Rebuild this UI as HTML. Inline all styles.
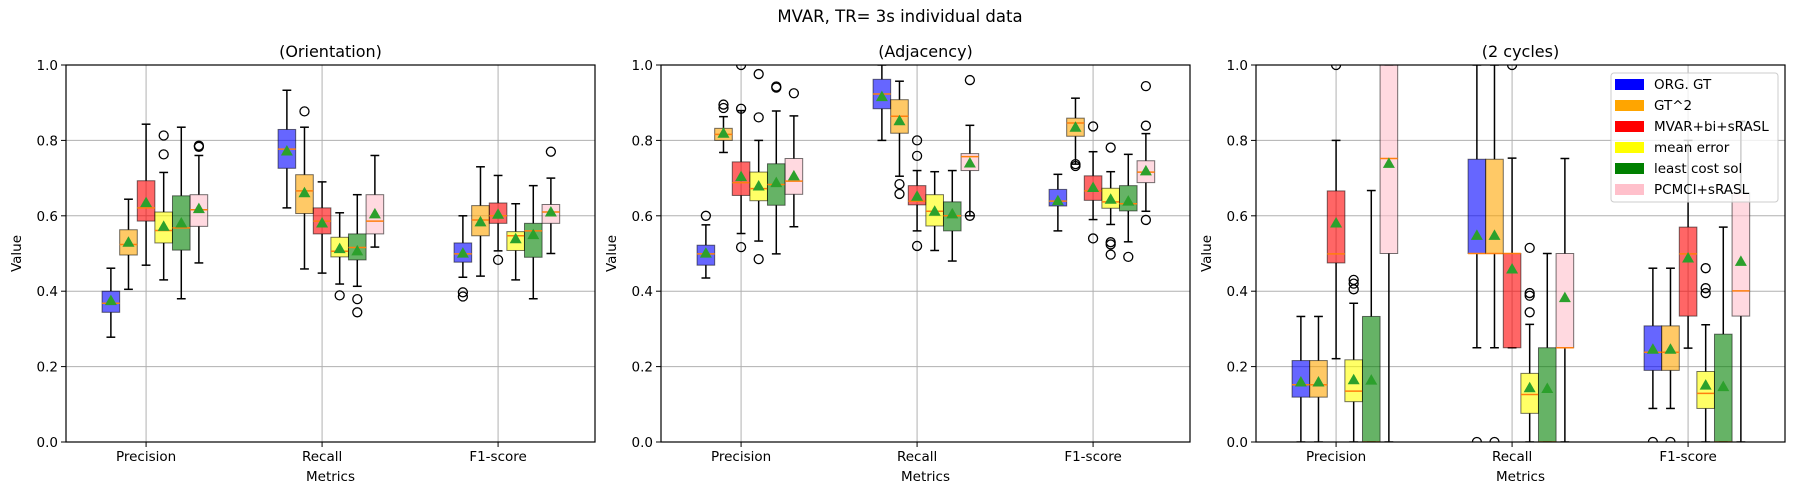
<!DOCTYPE html>
<html><head><meta charset="utf-8"><style>
html,body{margin:0;padding:0;background:#fff;}
svg{display:block;font-family:"DejaVu Sans","Liberation Sans",sans-serif;}
</style></head><body>
<svg id="chart" width="1800" height="500" viewBox="0 0 1800 500" xmlns="http://www.w3.org/2000/svg">
<text x="900" y="22" text-anchor="middle" font-size="16.5" fill="#000">MVAR, TR= 3s individual data</text>
<g id="root"></g>
</svg>
<script>
const panelTitles = ["(Orientation)", "(Adjacency)", "(2 cycles)"];
const metrics = ["Precision", "Recall", "F1-score"];
const methods = ["ORG. GT", "GT^2", "MVAR+bi+sRASL", "mean error", "least cost sol", "PCMCI+sRASL"];
const methodColors = ["#0000ff", "#ffa500", "#ff0000", "#ffff00", "#008000", "#ffc0cb"];
const yTicks = [0.0, 0.2, 0.4, 0.6, 0.8, 1.0];
// [panel][metric][method]
const whiskerHigh = [
 [[0.461,0.644,0.843,0.715,0.835,0.76],[0.933,0.835,0.69,0.608,0.656,0.76],[0.6,0.73,0.707,0.632,0.68,0.70]],
 [[0.576,0.863,0.879,0.8,0.878,0.865],[1.0,0.957,0.72,0.717,0.72,0.84],[0.71,0.912,0.77,0.717,0.763,0.818]],
 [[0.333,0.333,0.8,0.368,0.667,1.0],[1.0,1.0,0.753,0.312,0.5,0.752],[0.461,0.461,0.8,0.311,0.57,0.85]]
];
const q3 = [
 [[0.4,0.563,0.693,0.61,0.653,0.656],[0.829,0.709,0.621,0.543,0.552,0.656],[0.528,0.627,0.634,0.558,0.58,0.63]],
 [[0.522,0.832,0.743,0.716,0.738,0.752],[0.962,0.908,0.68,0.656,0.637,0.765],[0.67,0.859,0.706,0.673,0.68,0.746]],
 [[0.216,0.216,0.666,0.218,0.333,1.0],[0.75,0.75,0.5,0.182,0.25,0.5],[0.308,0.308,0.57,0.187,0.286,0.661]]
];
const medians = [
 [[0.368,0.524,0.621,0.561,0.568,0.616],[0.777,0.666,0.586,0.506,0.516,0.586],[0.499,0.589,0.6,0.547,0.56,0.61]],
 [[0.499,0.816,0.688,0.672,0.683,0.692],[0.923,0.864,0.639,0.612,0.6,0.757],[0.639,0.846,0.666,0.637,0.632,0.716]],
 [[0.152,0.152,0.499,0.135,0.0,0.752],[0.5,0.5,0.5,0.126,0.0,0.25],[0.238,0.238,0.499,0.129,0.0,0.401]]
];
const q1 = [
 [[0.344,0.496,0.586,0.528,0.509,0.572],[0.726,0.606,0.552,0.491,0.483,0.552],[0.477,0.547,0.58,0.508,0.49,0.58]],
 [[0.469,0.8,0.654,0.64,0.628,0.657],[0.884,0.819,0.629,0.573,0.56,0.72],[0.626,0.811,0.641,0.62,0.613,0.688]],
 [[0.119,0.119,0.475,0.107,0.0,0.5],[0.5,0.5,0.25,0.076,0.0,0.25],[0.19,0.19,0.334,0.089,0.0,0.334]]
];
const whiskerLow = [
 [[0.278,0.405,0.469,0.43,0.38,0.475],[0.621,0.459,0.448,0.419,0.413,0.517],[0.437,0.44,0.507,0.43,0.38,0.50]],
 [[0.435,0.768,0.553,0.533,0.499,0.571],[0.8,0.705,0.56,0.508,0.48,0.6],[0.56,0.737,0.59,0.577,0.531,0.612]],
 [[0.0,0.0,0.221,0.0,0.0,0.0],[0.25,0.25,0.25,0.0,0.0,0.0],[0.089,0.089,0.249,0.0,0.0,0.0]]
];
const means = [
 [[0.375,0.53,0.635,0.572,0.581,0.619],[0.772,0.661,0.581,0.513,0.507,0.605],[0.501,0.584,0.604,0.539,0.55,0.61]],
 [[0.501,0.819,0.704,0.679,0.688,0.706],[0.916,0.852,0.652,0.612,0.605,0.74],[0.64,0.835,0.675,0.644,0.639,0.719]],
 [[0.159,0.159,0.581,0.165,0.164,0.739],[0.548,0.548,0.459,0.144,0.142,0.383],[0.246,0.246,0.488,0.151,0.147,0.479]]
];
const outliers = [
 [[[],[],[],[0.813,0.763],[],[0.786,0.783]],[[],[0.877],[],[0.389],[0.379,0.344],[]],[[0.397,0.386],[],[0.483],[],[],[0.77]]],
 [[[0.6],[0.895,0.886],[1.0,0.884,0.517],[0.976,0.861,0.485],[0.943,0.94],[0.925]],[[],[0.684,0.658],[0.8,0.759,0.52],[],[],[0.96,0.6]],[[],[0.737,0.732],[0.837,0.54],[0.781,0.53,0.524,0.497],[0.491],[0.944,0.839,0.589]]],
 [[[],[],[1.0],[0.43,0.42,0.405],[],[]],[[0.0],[0.0],[1.0],[0.515,0.395,0.388,0.344],[],[]],[[0.0],[0.0],[],[0.461,0.408,0.395],[],[]]]
];

const NS = "http://www.w3.org/2000/svg";
const root = document.getElementById("root");
const panelLeft = [66, 661, 1256];
const plotW = 529, plotTop = 65, plotBottom = 442;
const unitPx = 176, xMin = 0.545;
function yScale(v){ return plotTop + (1 - v) * (plotBottom - plotTop); }
function xScale(p, pos){ return panelLeft[p] + (pos - xMin) * unitPx; }
function mk(tag, attrs, parent){
  const e = document.createElementNS(NS, tag);
  for (const k in attrs) e.setAttribute(k, attrs[k]);
  parent.appendChild(e);
  return e;
}
const defs = mk("defs", {}, root);

for (let p = 0; p < 3; p++){
  const L = panelLeft[p];
  const g = mk("g", {}, root);
  
  
  const cp = mk("clipPath", {id: "clip" + p}, defs);
  mk("rect", {x: L, y: plotTop, width: plotW, height: plotBottom - plotTop}, cp);
  // grid
  yTicks.forEach(t => {
    const ln = mk("line", {x1: L, x2: L + plotW, y1: yScale(t), y2: yScale(t), stroke: "#b0b0b0", "stroke-width": 1}, g);
    
    
    mk("line", {x1: L - 5, x2: L, y1: yScale(t), y2: yScale(t), stroke: "#000", "stroke-width": 1}, g);
    const tx = mk("text", {x: L - 8, y: yScale(t) + 5, "text-anchor": "end", "font-size": 13.5}, g);
    tx.textContent = t.toFixed(1);
    
    
  });
  metrics.forEach((m, i) => {
    const x = xScale(p, i + 1);
    const ln = mk("line", {x1: x, x2: x, y1: plotTop, y2: plotBottom, stroke: "#b0b0b0", "stroke-width": 1}, g);
    
    
    mk("line", {x1: x, x2: x, y1: plotBottom, y2: plotBottom + 5, stroke: "#000", "stroke-width": 1}, g);
    const tx = mk("text", {x: x, y: 461, "text-anchor": "middle", "font-size": 13.5}, g);
    tx.textContent = m;
    
    
  });
  // boxes
  const bg = mk("g", {"clip-path": "url(#clip" + p + ")"}, g);
  for (let i = 0; i < 3; i++){
    for (let j = 0; j < 6; j++){
      const c = xScale(p, i + 1 + (j - 2) * 0.1);
      const hw = 0.05 * unitPx, cw = 0.025 * unitPx;
      const grp = mk("g", {}, bg);
      
      
      const yh = yScale(whiskerHigh[p][i][j]), y3 = yScale(q3[p][i][j]), y1 = yScale(q1[p][i][j]), yl = yScale(whiskerLow[p][i][j]);
      mk("line", {x1: c, x2: c, y1: yh, y2: y3, stroke: "#000", "stroke-width": 1.5}, grp);
      mk("line", {x1: c, x2: c, y1: y1, y2: yl, stroke: "#000", "stroke-width": 1.5}, grp);
      mk("line", {x1: c - cw, x2: c + cw, y1: yh, y2: yh, stroke: "#000", "stroke-width": 1.5}, grp);
      mk("line", {x1: c - cw, x2: c + cw, y1: yl, y2: yl, stroke: "#000", "stroke-width": 1.5}, grp);
      mk("rect", {x: c - hw, y: y3, width: 2 * hw, height: Math.max(0, y1 - y3), fill: methodColors[j], "fill-opacity": 0.6, stroke: "#000", "stroke-opacity": 0.55, "stroke-width": 1}, grp);
      const ym = yScale(medians[p][i][j]);
      mk("line", {x1: c - hw, x2: c + hw, y1: ym, y2: ym, stroke: "#ff7f0e", "stroke-width": 1.5}, grp);
      outliers[p][i][j].forEach(o => {
        mk("circle", {cx: c, cy: yScale(o), r: 4.5, fill: "none", stroke: "#000", "stroke-width": 1.3}, grp);
      });
      const ya = yScale(means[p][i][j]);
      mk("polygon", {points: `${c},${ya-6} ${c-6},${ya+4.5} ${c+6},${ya+4.5}`, fill: "#2ca02c"}, grp);
    }
  }
  // frame
  const fr = mk("rect", {x: L, y: plotTop, width: plotW, height: plotBottom - plotTop, fill: "none", stroke: "#000", "stroke-width": 1.2}, g);
  
  
  const tt = mk("text", {x: L + plotW / 2, y: 57, "text-anchor": "middle", "font-size": 16}, g);
  tt.textContent = panelTitles[p];
  
  
  const xl = mk("text", {x: L + plotW / 2, y: 481, "text-anchor": "middle", "font-size": 13.5}, g);
  xl.textContent = "Metrics";
  
  
  const yx = L - 45, yy = (plotTop + plotBottom) / 2;
  const yl2 = mk("text", {x: yx, y: yy, "text-anchor": "middle", "font-size": 13.5, transform: `rotate(-90 ${yx} ${yy})`}, g);
  yl2.textContent = "Value";
  
  
}
// legend
const lg = mk("g", {}, root);


mk("rect", {x: 1611, y: 73, width: 167, height: 129, rx: 3, fill: "#fff", "fill-opacity": 0.8, stroke: "#ccc"}, lg);
methods.forEach((m, j) => {
  const y = 84 + j * 21;
  const e = mk("g", {}, lg);
  
  
  mk("rect", {x: 1615, y: y - 5, width: 29, height: 11, fill: methodColors[j]}, e);
  const t = mk("text", {x: 1654, y: y + 5, "font-size": 13.5}, e);
  t.textContent = m;
});
</script>
</body></html>
